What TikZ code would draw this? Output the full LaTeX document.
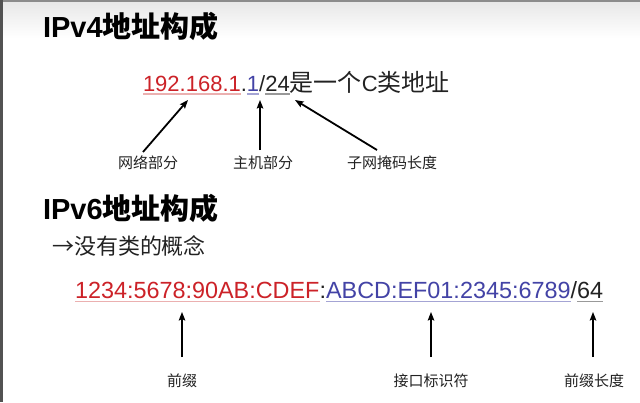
\documentclass[tikz,border=0pt]{standalone}
\usepackage{fontspec}
\setmainfont{Liberation Sans}
\newfontfamily\cjk{Noto Sans CJK SC}
\usetikzlibrary{arrows.meta}
\definecolor{netred}{HTML}{CC2228}
\definecolor{hostblue}{HTML}{4343A6}
\definecolor{ink}{HTML}{222222}
\definecolor{ulred}{HTML}{EBB0B0}
\definecolor{ulblue}{HTML}{A4A4D4}
\definecolor{ulgray}{HTML}{999999}
\begin{document}
\begin{tikzpicture}[x=1pt,y=-1pt,
  ttl/.style={inner sep=0pt, outer sep=0pt, anchor=base west, text=black, font=\fontsize{29}{30}\selectfont\bfseries},
  vfour/.style={inner sep=0pt, outer sep=0pt, anchor=base west, text=ink, font=\fontsize{22}{24}\selectfont},
  vsix/.style={inner sep=0pt, outer sep=0pt, anchor=base west, text=ink, font=\fontsize{23.4}{25}\selectfont},
  lab/.style={inner sep=0pt, outer sep=0pt, text=ink, font=\cjk\fontsize{15}{16}\selectfont},
  arr/.style={line width=1.8pt, black, -{Stealth[length=8.5pt,width=6.5pt,inset=1.5pt]}},
  ul/.style={line width=1.2pt}
]
\useasboundingbox (0,0) rectangle (640,402);
\fill[white] (0,0) rectangle (640,402);
\shade[top color=black!9, bottom color=white] (0,2) rectangle (640,38);
\fill[black!45] (0,0) rectangle (640,2);
\fill[black!68] (0,0) rectangle (3,402);

% titles
\node[ttl] (t4) at (43,37) {IPv4{\cjk\bfseries 地址构成}};
\node[ttl] (t6) at (43,219) {IPv6{\cjk\bfseries 地址构成}};

% IPv4 address
\node[vfour, text=netred] (a1) at (143,91) {192.168.1};
\node[vfour] (a2) at (a1.base east) {.};
\node[vfour, text=hostblue] (a3) at (a2.base east) {1};
\node[vfour] (a4) at (a3.base east) {/};
\node[vfour] (a5) at (a4.base east) {24};
\node[vfour] (a6) at (a5.base east) {{\cjk\fontsize{24}{25}\selectfont 是一个}C{\cjk\fontsize{24}{25}\selectfont 类地址}};
\draw[ul, ulred] ([yshift=-3pt]a1.base west) -- ([yshift=-3pt]a1.base east);
\draw[ul, ulblue] ([yshift=-3pt]a3.base west) -- ([yshift=-3pt]a3.base east);
\draw[ul, ulgray] ([yshift=-3pt]a5.base west) -- ([yshift=-3pt]a5.base east);

% IPv4 arrows and labels
\node[lab] (l1) at (148,163) {网络部分};
\node[lab] (l2) at (263,163) {主机部分};
\node[lab] (l3) at (392,163) {子网掩码长度};
\coordinate (s1) at (143,152);
\coordinate (e1) at (188,100);
\coordinate (s2) at (260,150);
\coordinate (e2) at (260,100);
\coordinate (s3) at (377,150);
\coordinate (e3) at (295,100);
\draw[arr] (s1) -- (e1);
\draw[arr] (s2) -- (e2);
\draw[arr] (s3) -- (e3);

% IPv6 note
\node[vfour, anchor=base west] (nt) at (52,254) {{\cjk →没有类的概念}};

% IPv6 address
\node[vsix, text=netred] (b1) at (75,298) {1234:5678:90AB:CDEF};
\node[vsix] (b2) at (b1.base east) {:};
\node[vsix, text=hostblue] (b3) at (b2.base east) {ABCD:EF01:2345:6789};
\node[vsix] (b4) at (b3.base east) {/};
\node[vsix] (b5) at (b4.base east) {64};
\draw[ul, ulred] ([yshift=-3.5pt]b1.base west) -- ([yshift=-3.5pt]b1.base east);
\draw[ul, ulblue] ([yshift=-3.5pt]b3.base west) -- ([yshift=-3.5pt]b3.base east);
\draw[ul, ulgray] ([yshift=-3.5pt]b5.base west) -- ([yshift=-3.5pt]b5.base east);

% IPv6 arrows and labels
\node[lab] (m1) at (182,381) {前缀};
\node[lab] (m2) at (431,381) {接口标识符};
\node[lab] (m3) at (594,381) {前缀长度};
\coordinate (u1) at (182,357);
\coordinate (v1) at (182,312);
\coordinate (u2) at (431,357);
\coordinate (v2) at (431,312);
\coordinate (u3) at (593,357);
\coordinate (v3) at (593,312);
\draw[arr] (u1) -- (v1);
\draw[arr] (u2) -- (v2);
\draw[arr] (u3) -- (v3);
\end{tikzpicture}
\end{document}
